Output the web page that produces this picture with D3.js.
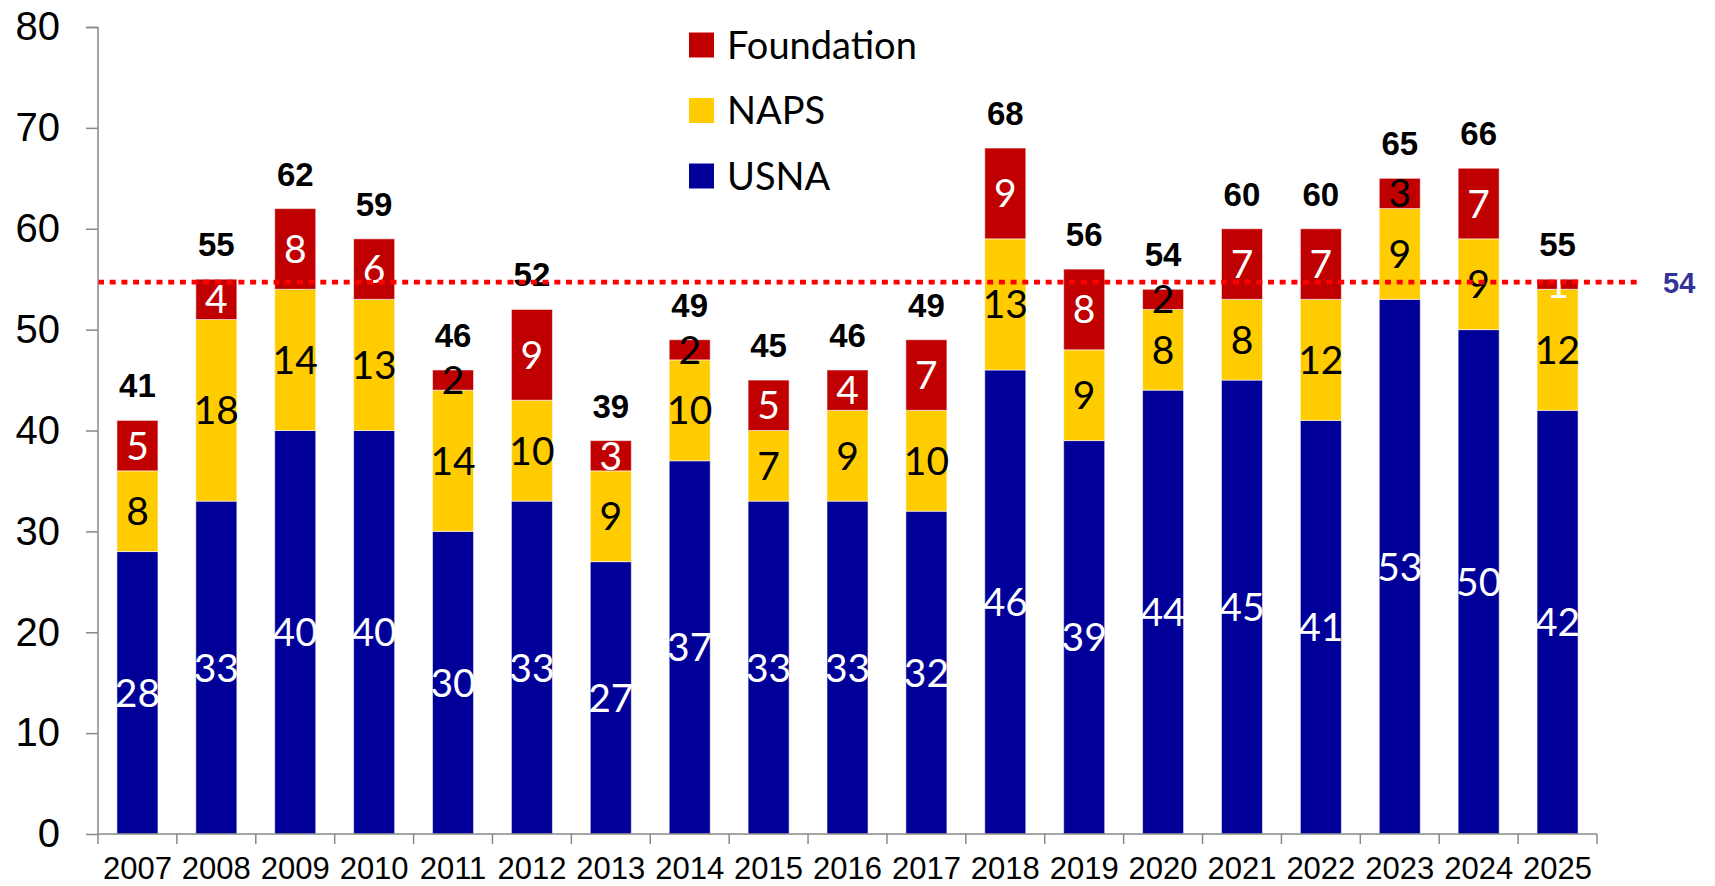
<!DOCTYPE html>
<html>
<head>
<meta charset="utf-8">
<script src="https://d3js.org/d3.v7.min.js"></script>
<style>
  body { margin: 0; background: #fff; }
  svg { display: block; }
</style>
</head>
<body>
<svg id="drawing_region"></svg>
<script>
const years = ['2007','2008','2009','2010','2011','2012','2013','2014','2015','2016',
               '2017','2018','2019','2020','2021','2022','2023','2024','2025'];
const usna       = [28,33,40,40,30,33,27,37,33,33,32,46,39,44,45,41,53,50,42];
const naps       = [ 8,18,14,13,14,10, 9,10, 7, 9,10,13, 9, 8, 8,12, 9, 9,12];
const foundation = [ 5, 4, 8, 6, 2, 9, 3, 2, 5, 4, 7, 9, 8, 2, 7, 7, 3, 7, 1];
const yTicks = [0,10,20,30,40,50,60,70,80];
const seriesNames = ['USNA','NAPS','Foundation'];
const avgValue = 54.7;
const avgLabel = '54';
// foundation labels drawn in black instead of white
const darkFoundation = ['2011','2014','2020','2023'];

let config = {
    parent: '#drawing_region',
    width: 1715,
    height: 886,
    margin: {top:27, right:118, bottom:52, left:98}
};

const colors = { USNA: '#000099', NAPS: '#ffcc00', Foundation: '#c00000' };

class StackedBar {

    constructor( config ) {
        this.config = config;
        this.data = years.map( (y, i) => ({ year: y, USNA: usna[i], NAPS: naps[i], Foundation: foundation[i] }) );
        this.init();
    }

    init() {
        let self = this;
        const m = self.config.margin;

        self.svg = d3.select( self.config.parent )
            .attr('width', self.config.width)
            .attr('height', self.config.height);

        self.inner_width = self.config.width - m.left - m.right;
        self.inner_height = self.config.height - m.top - m.bottom;

        self.chart = self.svg.append('g')
            .attr('transform', `translate(${m.left}, ${m.top})`);

        self.xscale = d3.scaleBand()
            .domain( years )
            .range( [0, self.inner_width] )
            .paddingInner(0.48)
            .paddingOuter(0.24);

        self.yscale = d3.scaleLinear()
            .domain( [0, 80] )
            .range( [self.inner_height, 0] );

        self.stack = d3.stack().keys( seriesNames )( self.data );
    }

    render() {
        let self = this;
        const ih = self.inner_height;

        // bars
        self.chart.selectAll('g.layer')
            .data( self.stack )
            .join('g')
            .attr('class', 'layer')
            .attr('fill', d => colors[d.key])
            .selectAll('rect')
            .data( d => d )
            .join('rect')
            .attr('x', d => self.xscale( d.data.year ))
            .attr('y', d => self.yscale( d[1] ))
            .attr('width', self.xscale.bandwidth())
            .attr('height', d => self.yscale( d[0] ) - self.yscale( d[1] ))
            .attr('stroke', '#ffffff')
            .attr('stroke-opacity', 0.55)
            .attr('stroke-width', 1);

        // segment labels
        self.stack.forEach( layer => {
            self.chart.append('g')
                .selectAll('text')
                .data( layer )
                .join('text')
                .attr('x', d => self.xscale( d.data.year ) + self.xscale.bandwidth() / 2)
                .attr('y', d => self.yscale( (d[0] + d[1]) / 2 ))
                .attr('dy', '0.36em')
                .attr('text-anchor', 'middle')
                .style('font-family', 'Lato, "Open Sans", sans-serif')
                .style('font-size', '39px')
                .attr('fill', d => {
                    if (layer.key == 'NAPS') return '#000';
                    if (layer.key == 'Foundation' && darkFoundation.includes(d.data.year)) return '#000';
                    return '#fff';
                })
                .text( d => d[1] - d[0] );
        });

        // totals
        self.chart.append('g')
            .selectAll('text')
            .data( self.data )
            .join('text')
            .attr('x', d => self.xscale( d.year ) + self.xscale.bandwidth() / 2)
            .attr('y', d => self.yscale( d.USNA + d.NAPS + d.Foundation ) - 23)
            .attr('text-anchor', 'middle')
            .style('font-family', 'Arial, "Liberation Sans", sans-serif')
            .style('font-weight', 'bold')
            .style('font-size', '33px')
            .attr('fill', '#000')
            .text( d => d.USNA + d.NAPS + d.Foundation );

        // average line
        self.chart.append('line')
            .attr('x1', 0)
            .attr('x2', self.inner_width + 45)
            .attr('y1', self.yscale( avgValue ))
            .attr('y2', self.yscale( avgValue ))
            .attr('stroke', '#ff0000')
            .attr('stroke-width', 4.7)
            .attr('stroke-dasharray', '6,5.7');

        self.chart.append('text')
            .attr('x', self.inner_width + 66)
            .attr('y', self.yscale( avgValue ))
            .attr('dy', '0.36em')
            .style('font-family', 'Arial, "Liberation Sans", sans-serif')
            .style('font-weight', 'bold')
            .style('font-size', '29px')
            .attr('fill', '#333399')
            .text( avgLabel );

        // y axis
        const yaxis = d3.axisLeft( self.yscale )
            .tickValues( yTicks ).tickSize(12).tickPadding(26);
        const yg = self.chart.append('g').call( yaxis );
        yg.selectAll('line, path').attr('stroke', '#898989').attr('stroke-width', 1.5);
        yg.select('path').attr('d', `M-12,0.5H0V${ih}`);
        yg.selectAll('text')
            .style('font-family', 'Arial, "Liberation Sans", sans-serif')
            .style('font-size', '40px')
            .attr('fill', '#000');

        // x axis, ticks on band boundaries
        const xg = self.chart.append('g')
            .attr('transform', `translate(0, ${ih})`);
        xg.append('line')
            .attr('x1', 0).attr('x2', self.inner_width)
            .attr('stroke', '#898989').attr('stroke-width', 1.5);
        const step = self.xscale.step();
        xg.selectAll('line.tick')
            .data( d3.range( years.length + 1 ) )
            .join('line')
            .attr('class', 'tick')
            .attr('x1', i => i * step).attr('x2', i => i * step)
            .attr('y1', 0).attr('y2', 10)
            .attr('stroke', '#898989').attr('stroke-width', 1.5);
        xg.selectAll('text')
            .data( years )
            .join('text')
            .attr('x', d => self.xscale( d ) + self.xscale.bandwidth() / 2)
            .attr('y', 45)
            .attr('text-anchor', 'middle')
            .style('font-family', 'Arial, "Liberation Sans", sans-serif')
            .style('font-size', '31px')
            .attr('fill', '#000')
            .text( d => d );

        // legend
        const legend = self.svg.append('g')
            .selectAll('g')
            .data( ['Foundation','NAPS','USNA'] )
            .join('g')
            .attr('transform', (d, i) => `translate(689, ${45 + i * 65.5})`);
        legend.append('rect')
            .attr('x', 0).attr('y', -12.5)
            .attr('width', 25).attr('height', 25)
            .attr('fill', d => colors[d]);
        legend.append('text')
            .attr('x', 38)
            .attr('dy', '0.36em')
            .style('font-family', 'Lato, "Open Sans", sans-serif')
            .style('font-size', '38px')
            .attr('fill', '#000')
            .text( d => d );
    }
}

const chart = new StackedBar( config );
chart.render();
</script>
</body>
</html>
